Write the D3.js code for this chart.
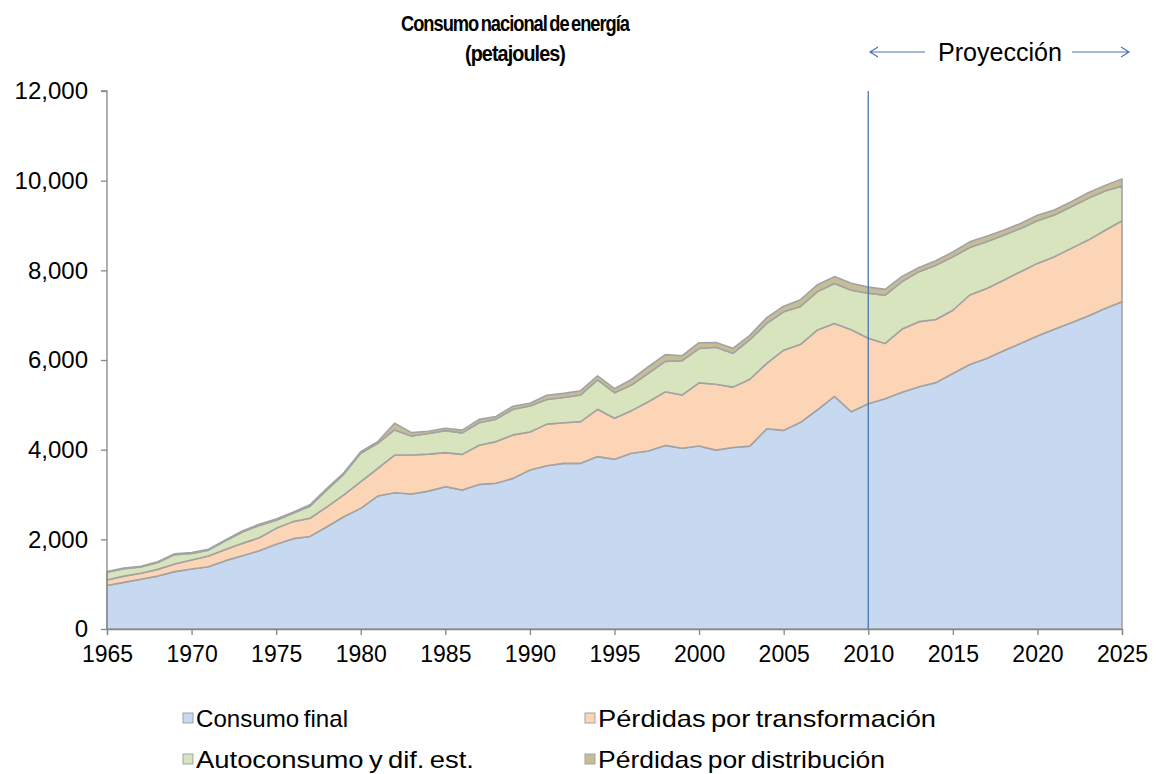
<!DOCTYPE html>
<html>
<head>
<meta charset="utf-8">
<script src="https://cdn.jsdelivr.net/npm/d3@7"></script>
<style>
  body { margin: 0; background: #fff; }
  text { font-family: "Liberation Sans", Arial, sans-serif; fill: #000; }
</style>
</head>
<body>
<div id="chart"></div>
<script>
// years on the category axis
var years = d3.range(1965, 2026);

// series values (petajoules)
var consumoFinal = [970, 1040, 1110, 1180, 1280, 1340, 1390, 1525, 1635, 1745,
  1890, 2015, 2065, 2280, 2505, 2690, 2965, 3040, 3010, 3075,
  3175, 3100, 3225, 3250, 3360, 3545, 3640, 3695, 3695, 3845,
  3785, 3920, 3970, 4095, 4030, 4080, 3990, 4050, 4080, 4465,
  4430, 4610, 4890, 5190, 4845, 5025, 5135, 5280, 5405, 5495,
  5700, 5900, 6035, 6205, 6370, 6535, 6685, 6830, 6980, 7150, 7300];
var perdTransformacion = [125, 140, 135, 150, 170, 200, 240, 250, 275, 290,
  355, 380, 405, 445, 485, 595, 615, 840, 870, 825,
  760, 795, 875, 930, 970, 850, 930, 905, 930, 1055,
  915, 950, 1100, 1195, 1190, 1410, 1470, 1345, 1490, 1460,
  1790, 1740, 1780, 1625, 1830, 1460, 1235, 1410, 1450, 1410,
  1410, 1550, 1560, 1575, 1600, 1620, 1620, 1660, 1695, 1745, 1805];
var autoconsumo = [170, 165, 140, 155, 210, 145, 130, 190, 255, 275,
  180, 185, 270, 380, 465, 635, 560, 560, 425, 460,
  490, 480, 500, 500, 570, 580, 550, 565, 595, 655,
  570, 570, 630, 680, 765, 765, 825, 755, 885, 890,
  855, 845, 855, 890, 880, 1005, 1075, 1060, 1115, 1210,
  1190, 1060, 1040, 1005, 965, 950, 930, 930, 930, 875, 775];
var perdDistribucion = [15, 15, 15, 15, 18, 18, 18, 20, 23, 24,
  26, 27, 30, 30, 30, 35, 37, 150, 75, 50,
  52, 60, 75, 60, 70, 60, 95, 90, 95, 90,
  90, 125, 150, 150, 110, 130, 105, 110, 95, 130,
  125, 150, 155, 155, 155, 135, 130, 115, 95, 100,
  110, 125, 125, 110, 110, 125, 110, 110, 125, 125, 160];

var seriesNames = ["Consumo final", "Pérdidas por transformación",
  "Autoconsumo y dif. est.", "Pérdidas por distribución"];
var seriesColors = ["#c6d9f1", "#fbd5b5", "#d7e4bd", "#c4bd97"];
var yTicks = [0, 2000, 4000, 6000, 8000, 10000, 12000];
var xTicks = [1965, 1970, 1975, 1980, 1985, 1990, 1995, 2000, 2005, 2010, 2015, 2020, 2025];
var projectionYear = 2010;

var svgWidth = 1157;
var svgHeight = 774;
var margin = { top: 91, right: 35, bottom: 145, left: 107 };
var width = svgWidth - margin.left - margin.right;
var height = svgHeight - margin.top - margin.bottom;

var svg = d3.select("#chart").append("svg")
  .attr("width", svgWidth)
  .attr("height", svgHeight);

var chartGroup = svg.append("g")
  .attr("transform", `translate(${margin.left}, ${margin.top})`);

// build rows for the stack
var keys = ["cf", "pt", "au", "pd"];
var rows = years.map((y, i) => ({
  year: y, cf: consumoFinal[i], pt: perdTransformacion[i],
  au: autoconsumo[i], pd: perdDistribucion[i]
}));
var stacked = d3.stack().keys(keys)(rows);

var x = d3.scaleLinear().domain([1965, 2025]).range([0, width]);
var y = d3.scaleLinear().domain([0, 12000]).range([height, 0]);

var area = d3.area()
  .x(d => x(d.data.year))
  .y0(d => y(d[0]))
  .y1(d => y(d[1]));

chartGroup.selectAll("path.layer")
  .data(stacked)
  .enter()
  .append("path")
  .attr("class", "layer")
  .attr("d", area)
  .attr("fill", (d, i) => seriesColors[i])
  .attr("stroke", "#a3a3a3")
  .attr("stroke-width", 1.6)
  .attr("stroke-linejoin", "round");

// axes
var axisColor = "#868686";
var leftAxis = d3.axisLeft(y).tickValues(yTicks).tickSize(6).tickPadding(13)
  .tickFormat(d3.format(","));
var bottomAxis = d3.axisBottom(x).tickValues(xTicks).tickSize(6).tickPadding(11)
  .tickFormat(d3.format("d"));

var gy = chartGroup.append("g").call(leftAxis);
var gx = chartGroup.append("g").attr("transform", `translate(0, ${height})`).call(bottomAxis);
[gx, gy].forEach(g => {
  g.select(".domain").attr("stroke", axisColor).attr("stroke-width", 1.3);
  g.selectAll(".tick line").attr("stroke", axisColor).attr("stroke-width", 1.3);
  g.selectAll(".tick text").attr("fill", "#000")
    .attr("font-family", "'Liberation Sans', Arial, sans-serif");
});
gx.selectAll(".tick text").attr("font-size", 23);
gy.selectAll(".tick text").attr("font-size", 24);
gy.select(".domain").attr("d", `M0,${height}V0H-6`);

// projection marker
var blue = "#4a74b0";
chartGroup.append("line")
  .attr("x1", x(projectionYear)).attr("x2", x(projectionYear))
  .attr("y1", 0).attr("y2", height)
  .attr("stroke", blue).attr("stroke-width", 1.3);

svg.append("text")
  .attr("x", 1000).attr("y", 61)
  .attr("text-anchor", "middle")
  .attr("font-size", 25)
  .attr("textLength", 124).attr("lengthAdjust", "spacingAndGlyphs")
  .text("Proyección");

var arrowGroup = svg.append("g").attr("stroke", blue).attr("stroke-width", 1.2).attr("fill", "none");
arrowGroup.append("path").attr("d", "M925,52H870M878,47L870,52L878,57");
arrowGroup.append("path").attr("d", "M1072,52H1129M1121,47L1129,52L1121,57");

// title
svg.append("text")
  .attr("x", 515).attr("y", 31)
  .attr("text-anchor", "middle")
  .attr("font-size", 22).attr("font-weight", "bold")
  .attr("letter-spacing", -1.2).attr("word-spacing", -2)
  .attr("textLength", 228).attr("lengthAdjust", "spacingAndGlyphs")
  .text("Consumo nacional de energía");
svg.append("text")
  .attr("x", 515).attr("y", 61)
  .attr("text-anchor", "middle")
  .attr("font-size", 22).attr("font-weight", "bold")
  .attr("letter-spacing", -1)
  .attr("textLength", 100).attr("lengthAdjust", "spacingAndGlyphs")
  .text("(petajoules)");

// legend
var legendPos = [[183, 718], [585, 718], [183, 759], [585, 759]];
var legendLen = [152, 338, 278, 287];
var legend = svg.selectAll("g.legend")
  .data(seriesNames)
  .enter()
  .append("g")
  .attr("class", "legend")
  .attr("transform", (d, i) => `translate(${legendPos[i][0]}, ${legendPos[i][1]})`);

legend.append("rect")
  .attr("x", 0).attr("y", -5)
  .attr("width", 10).attr("height", 10)
  .attr("fill", (d, i) => seriesColors[i])
  .attr("stroke", "#a3a3a3");

legend.append("text")
  .attr("x", 13).attr("y", 9)
  .attr("font-size", 24)
  .attr("word-spacing", -2)
  .attr("textLength", (d, i) => legendLen[i]).attr("lengthAdjust", "spacingAndGlyphs")
  .text(d => d);
</script>
</body>
</html>
